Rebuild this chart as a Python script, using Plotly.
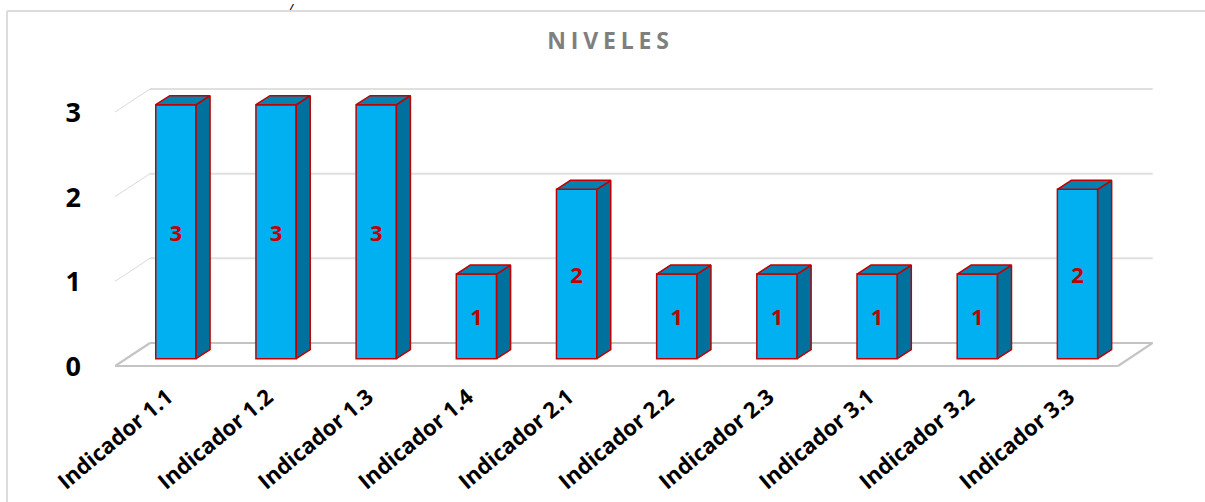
import plotly.graph_objects as go

categories = ["Indicador 1.1", "Indicador 1.2", "Indicador 1.3", "Indicador 1.4", "Indicador 2.1",
              "Indicador 2.2", "Indicador 2.3", "Indicador 3.1", "Indicador 3.2", "Indicador 3.3"]
values = [3, 3, 3, 1, 2, 1, 1, 1, 1, 2]
y_ticks = [0, 1, 2, 3]

W, H = 1205, 502
L, R, T, B = 115, 1153, 80, 370      # plot box in pixels
PX_X, X0 = 100.18, 175.9             # pixels per category, pixel of first category
PX_Y, Y0 = 84.67, 358.7              # pixels per unit, pixel of value 0

BAR_W = 40.3 / PX_X
DX, DY = 14 / PX_X, 9 / PX_Y         # bar depth
FRONT = -7.3 / PX_Y                  # floor front edge relative to bar base
BACK = 15.7 / PX_Y                   # back wall relative to bar base
FX0, FX1 = (115 - X0) / PX_X, (1118 - X0) / PX_X
BX0, BX1 = (150 - X0) / PX_X, (1152.7 - X0) / PX_X
LABEL_SHIFT = -8.5 / PX_X
Y_LABEL_SHIFT = -0.6 / PX_Y

RED = "#C00000"
FRONT_C, SIDE_C, TOP_C = "#00B0F0", "#00709C", "#0083B3"

xs = list(range(len(categories)))
side_x, side_y, top_x, top_y = [], [], [], []
for x, v in zip(xs, values):
    l, r = x - BAR_W / 2, x + BAR_W / 2
    side_x += [r, r + DX, r + DX, r, r, None]
    side_y += [0, DY, v + DY, v, 0, None]
    top_x += [l, l + DX, r + DX, r, l, None]
    top_y += [v, v + DY, v + DY, v, v, None]

fig = go.Figure()
fig.add_trace(go.Bar(x=xs, y=values, width=BAR_W, text=[str(v) for v in values],
                     textposition="inside", insidetextanchor="middle", constraintext="none",
                     textangle=0,
                     insidetextfont=dict(family="Open Sans", size=22, color=RED, weight="bold"),
                     marker=dict(color=FRONT_C, line=dict(color=RED, width=1.5)),
                     hoverinfo="skip", showlegend=False))
for px, py, c in [(side_x, side_y, SIDE_C), (top_x, top_y, TOP_C)]:
    fig.add_trace(go.Scatter(x=px, y=py, mode="lines", fill="toself", fillcolor=c,
                             line=dict(color=RED, width=1.5), hoverinfo="skip", showlegend=False))

shapes = []
def seg(x0, y0, x1, y1, color, width):
    shapes.append(dict(type="line", xref="x", yref="y", x0=x0, y0=y0, x1=x1, y1=y1,
                       line=dict(color=color, width=width), layer="below"))
for t in y_ticks[1:]:
    seg(FX0, t + FRONT, BX0, t + BACK, "#d9d9d9", 1)
    seg(BX0, t + BACK, BX1, t + BACK, "#e0e0e0", 2)
seg(FX0, FRONT, FX1, FRONT, "#c4c4c4", 2.2)
seg(FX0, FRONT, BX0, BACK, "#c4c4c4", 2.2)
seg(FX1, FRONT, BX1, BACK, "#c4c4c4", 2.2)
seg(BX0, BACK, BX1, BACK, "#c4c4c4", 2.2)

# chart frame
def paper(px, py):
    return (px - L) / (R - L), (B - py) / (B - T)
fx0, fy0 = paper(7, 11)
_, fy1 = paper(7, H)
fx1, _ = paper(W, 11)
for a, b, c, d in [(fx0, fy0, fx1, fy0), (fx0, fy0, fx0, fy1)]:
    shapes.append(dict(type="line", xref="paper", yref="paper", x0=a, y0=b, x1=c, y1=d,
                       line=dict(color="#dcdcdc", width=2), layer="below"))

fig.update_layout(
    width=W, height=H, autosize=False,
    margin=dict(l=L, r=W - R, t=T, b=H - B, pad=0, autoexpand=False),
    paper_bgcolor="white", plot_bgcolor="rgba(0,0,0,0)",
    title=dict(text="NIVELES", x=610.5 / W, xanchor="center", y=1 - 41 / H, yanchor="middle",
               font=dict(family="Open Sans", size=23, color="#7F7F7F", weight="bold")),
    shapes=shapes,
    xaxis=dict(range=[(L - X0) / PX_X, (R - X0) / PX_X], tickmode="array", automargin=False,
               tickvals=[x + LABEL_SHIFT for x in xs], ticktext=categories,
               tickangle=-40, showgrid=False, zeroline=False, showline=False, ticks="",
               ticklabelstandoff=9,
               tickfont=dict(family="Open Sans", size=22, color="black", weight="bold")),
    yaxis=dict(range=[(Y0 - B) / PX_Y, (Y0 - T) / PX_Y], tickmode="array", automargin=False,
               tickvals=[t + FRONT + Y_LABEL_SHIFT for t in y_ticks], ticktext=[str(t) for t in y_ticks],
               showgrid=False, zeroline=False, showline=False, ticks="", ticklabelstandoff=33,
               tickfont=dict(family="Open Sans", size=27, color="black", weight="bold")),
)
fx, fy = paper(291, 0)
fig.add_annotation(text="/", xref="paper", yref="paper", x=fx, y=fy,
                   showarrow=False, xanchor="center", yanchor="top", borderpad=0,
                   font=dict(family="Open Sans", size=8, color="black", weight="bold", style="italic"))

fig.write_html("out.html", config=dict(displayModeBar=False),
               post_script="document.body.style.margin='0';document.body.style.overflow='hidden';"
                           "var t=document.querySelector('.gtitle');if(t){t.style.letterSpacing='4.8px';}")
